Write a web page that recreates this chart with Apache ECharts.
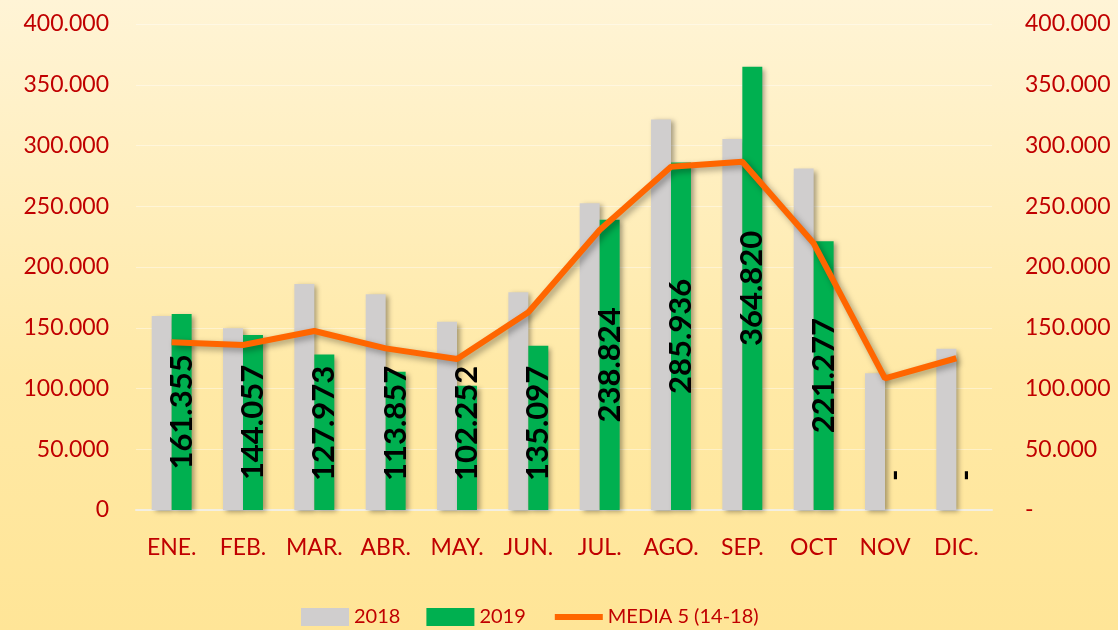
<!DOCTYPE html>
<html>
<head>
<meta charset="utf-8">
<script src="https://cdn.jsdelivr.net/npm/echarts@6/dist/echarts.min.js"></script>
<style>
  html, body { margin: 0; padding: 0; }
  #chart {
    width: 1118px;
    height: 630px;
    background: linear-gradient(to bottom, #fff4d6 0%, #ffe9a6 60%, #ffe597 100%);
  }
</style>
</head>
<body>
<div id="chart"></div>
<script>
const months = ["ENE.", "FEB.", "MAR.", "ABR.", "MAY.", "JUN.", "JUL.", "AGO.", "SEP.", "OCT", "NOV", "DIC."];
const values2018 = [159700, 149500, 186000, 177500, 155000, 179200, 252400, 321500, 305300, 281000, 112500, 132800];
const values2019 = [161355, 144057, 127973, 113857, 102252, 135097, 238824, 285936, 364820, 221277, 0, 0];
const media5 = [138000, 135800, 147300, 133000, 124300, 162700, 230500, 282600, 286700, 219500, 108400, 124900];
const yTicks = { min: 0, max: 400000, interval: 50000 };

const RED = "#c00000";
const FONT = "Lato, 'Noto Sans', sans-serif";
// short green bars: the value label is pinned near the base instead of centred
const SHORT_BAR = 140000;

function fmtThousands(v) {
  return String(Math.round(v)).replace(/\B(?=(\d{3})+(?!\d))/g, ".");
}

function axisFmt(v) {
  return (v / 1000).toFixed(3);
}

const lowLabel = {
  position: "insideBottom",
  distance: 29,
  align: "left",
  verticalAlign: "middle",
};

const data2019 = values2019.map((v) =>
  v < SHORT_BAR ? { value: v, label: lowLabel } : v
);

const chart = echarts.init(document.getElementById("chart"));

const barShadow = {
  shadowColor: "rgba(0,0,0,0.35)",
  shadowBlur: 5,
  shadowOffsetX: 3,
  shadowOffsetY: 2,
};

chart.setOption({
  animation: false,
  textStyle: { fontFamily: FONT },
  grid: { left: 136, right: 126, top: 24, bottom: 120 },
  legend: {
    bottom: -2,
    left: 296,
    itemWidth: 48,
    itemHeight: 18,
    itemGap: 26,
    textStyle: { color: RED, fontSize: 20, fontFamily: FONT },
    data: [
      { name: "2018", icon: "rect" },
      { name: "2019", icon: "rect" },
      {
        name: "MEDIA 5 (14-18)",
        itemStyle: { opacity: 0 },
        lineStyle: { width: 6, color: "#ff6600", shadowBlur: 0, shadowOffsetX: 0, shadowOffsetY: 0 },
      },
    ],
  },
  xAxis: {
    type: "category",
    data: months,
    axisTick: { show: false },
    axisLine: { lineStyle: { color: "#f3efe2", width: 2 } },
    axisLabel: { color: RED, fontSize: 23, margin: 26, interval: 0 },
  },
  yAxis: [
    {
      type: "value",
      ...yTicks,
      axisLabel: {
        color: RED,
        fontSize: 23,
        margin: 27,
        formatter: (v) => (v === 0 ? "0" : axisFmt(v)),
      },
      splitLine: { lineStyle: { color: "rgba(255,255,255,0.4)", width: 1 } },
      axisLine: { show: false },
      axisTick: { show: false },
    },
    {
      type: "value",
      ...yTicks,
      position: "right",
      axisLabel: {
        color: RED,
        fontSize: 23,
        margin: 33,
        align: "left",
        formatter: (v) => (v === 0 ? "-" : axisFmt(v)),
      },
      splitLine: { show: false },
      axisLine: { show: false },
      axisTick: { show: false },
    },
  ],
  series: [
    {
      name: "2018",
      type: "bar",
      data: values2018,
      barGap: "0%",
      barCategoryGap: "44%",
      itemStyle: { color: "#d0cece", ...barShadow },
      z: 2,
    },
    {
      name: "2019",
      type: "bar",
      data: data2019,
      itemStyle: { color: "#00b050", ...barShadow },
      label: {
        show: true,
        position: "inside",
        rotate: 90,
        color: "#000",
        fontWeight: "bold",
        fontSize: 31,
        fontFamily: FONT,
        formatter: (p) => (p.value === 0 ? "-" : fmtThousands(p.value)),
      },
      z: 3,
    },
    {
      name: "MEDIA 5 (14-18)",
      type: "line",
      yAxisIndex: 1,
      data: media5,
      showSymbol: false,
      symbol: "none",
      lineStyle: {
        color: "#ff6600",
        width: 6,
        shadowColor: "rgba(0,0,0,0.35)",
        shadowBlur: 6,
        shadowOffsetX: 3,
        shadowOffsetY: 3,
      },
      itemStyle: { color: "#ff6600" },
      z: 5,
    },
  ],
});
</script>
</body>
</html>
